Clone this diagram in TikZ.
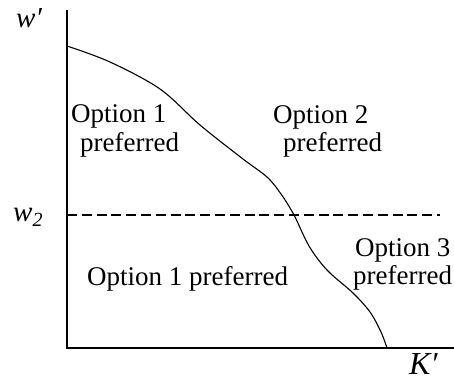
\documentclass[tikz,border=0pt]{standalone}
\usepackage{fontspec}
\setmainfont{Liberation Serif}
\begin{document}
\begin{tikzpicture}[x=1pt,y=-1pt,
  lbl/.style={inner sep=0pt, anchor=base west, font=\fontsize{27}{30}\selectfont},
  axislbl/.style={inner sep=0pt, anchor=base west, font=\fontsize{29}{30}\selectfont\itshape},
  axisline/.style={line width=1.1pt},
  curveline/.style={line width=1.1pt},
  guide/.style={line width=1.1pt, dash pattern=on 10pt off 4.8pt}]
\useasboundingbox (0,0) rectangle (454,381);
% axes
\coordinate (top) at (67,10);
\coordinate (origin) at (67,348);
\coordinate (right) at (454,348);
\draw[axisline] (top) -- (origin) -- (right);
% dashed w2 line
\coordinate (d1) at (67,215);
\coordinate (d2) at (440,215);
\draw[guide] (d1) -- (d2);
% boundary curve
\draw[curveline] plot[smooth, tension=0.55] coordinates {(67,46) (110,62) (160,89) (200,125) (243,159) (267,177) (281,194) (294,215) (309,246) (327,270) (353,293) (370,312) (381,332) (387,348)};
% axis labels
\node[axislbl] (wp) at (16,27) {w′};
\node[axislbl] (w2) at (13,221) {w\raisebox{-5pt}{\fontsize{20}{20}\selectfont 2}};
\node[axislbl, font=\fontsize{32}{32}\selectfont\itshape] (kp) at (409,374) {K′};
% region labels
\node[lbl] (o1a) at (71,122) {Option 1};
\node[lbl] (o1b) at (80,151) {preferred};
\node[lbl] (o2a) at (273,123) {Option 2};
\node[lbl] (o2b) at (283,151) {preferred};
\node[lbl] (o3a) at (355,256) {Option 3};
\node[lbl] (o3b) at (353,284) {preferred};
\node[lbl] (o1c) at (87,285) {Option 1 preferred};
\end{tikzpicture}
\end{document}
